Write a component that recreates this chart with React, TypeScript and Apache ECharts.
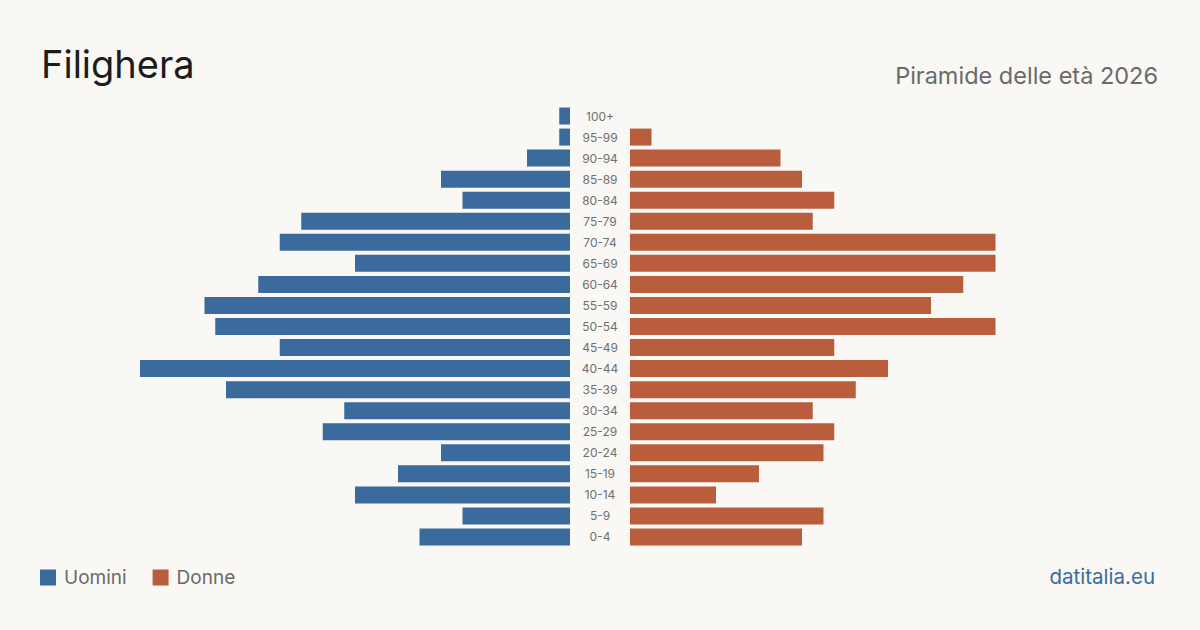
import React, { useEffect, useRef } from "react";
import * as echarts from "echarts";

// Age groups, bottom to top
const ageGroups = [
  "0-4", "5-9", "10-14", "15-19", "20-24", "25-29", "30-34", "35-39", "40-44",
  "45-49", "50-54", "55-59", "60-64", "65-69", "70-74", "75-79", "80-84",
  "85-89", "90-94", "95-99", "100+",
];

// Residents by age group
const men = [14, 10, 20, 16, 12, 23, 21, 32, 40, 27, 33, 34, 29, 20, 27, 25, 10, 12, 4, 1, 1];
const women = [16, 18, 8, 12, 18, 19, 17, 21, 24, 19, 34, 28, 31, 34, 34, 17, 19, 16, 14, 2, 0];

const BLUE = "#3a6b9c";
const ORANGE = "#b95d3d";
const BG = "#f9f8f4";
const FONT = "Inter, 'Noto Sans', sans-serif";

export default function App() {
  const ref = useRef<HTMLDivElement>(null);

  useEffect(() => {
    if (!ref.current) return;
    const chart = echarts.init(ref.current, undefined, { renderer: "svg" });
    const gridTop = 105.5;
    const gridHeight = 442;
    chart.setOption({
      animation: false,
      backgroundColor: BG,
      textStyle: { fontFamily: FONT },
      title: [
        {
          text: "Filighera",
          left: 41,
          top: 45,
          padding: 0,
          textStyle: { fontFamily: FONT, fontSize: 38, fontWeight: 400, color: "#1c1c1c" },
        },
        {
          text: "Piramide delle età 2026",
          right: 42,
          top: 63,
          padding: 0,
          textStyle: { fontFamily: FONT, fontSize: 23.5, fontWeight: 400, color: "#6a6a6a" },
        },
        {
          text: "datitalia.eu",
          right: 45,
          top: 566,
          padding: 0,
          textStyle: { fontFamily: FONT, fontSize: 20.5, fontWeight: 400, color: BLUE },
        },
      ],
      legend: {
        left: 40,
        top: 568,
        padding: 0,
        icon: "rect",
        itemWidth: 16,
        itemHeight: 16,
        itemGap: 26,
        textStyle: { fontFamily: FONT, fontSize: 19, color: "#6a6a6a", padding: [0, 0, 0, 3] },
        data: ["Uomini", "Donne"],
      },
      grid: [
        { left: 140, width: 430, top: gridTop, height: gridHeight },
        { left: 630, width: 430, top: gridTop, height: gridHeight },
      ],
      xAxis: [
        {
          type: "value",
          gridIndex: 0,
          min: 0,
          max: 40,
          inverse: true,
          show: false,
        },
        {
          type: "value",
          gridIndex: 1,
          min: 0,
          max: 40,
          show: false,
        },
      ],
      yAxis: [
        {
          type: "category",
          gridIndex: 0,
          data: ageGroups,
          show: false,
        },
        {
          type: "category",
          gridIndex: 1,
          data: ageGroups,
          position: "left",
          axisLine: { show: false },
          axisTick: { show: false },
          axisLabel: {
            margin: 30,
            align: "center",
            fontFamily: FONT,
            fontSize: 12,
            color: "#707070",
          },
        },
      ],
      series: [
        {
          name: "Uomini",
          type: "bar",
          xAxisIndex: 0,
          yAxisIndex: 0,
          data: men,
          barWidth: 17,
          itemStyle: { color: BLUE },
        },
        {
          name: "Donne",
          type: "bar",
          xAxisIndex: 1,
          yAxisIndex: 1,
          data: women,
          barWidth: 17,
          itemStyle: { color: ORANGE },
        },
      ],
    });
    return () => chart.dispose();
  }, []);

  return (
    <div
      ref={ref}
      style={{ width: 1200, height: 630, position: "fixed", left: 0, top: 0 }}
    />
  );
}
